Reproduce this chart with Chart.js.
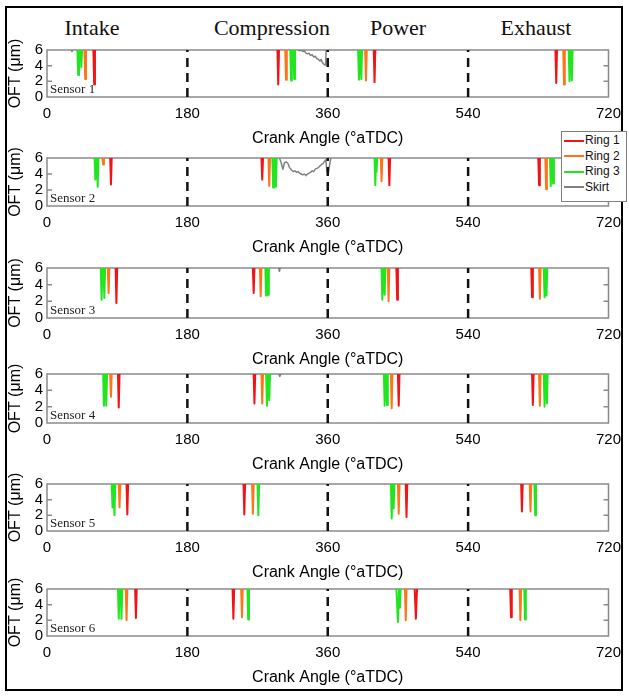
<!DOCTYPE html>
<html lang="en">
<head>
<meta charset="UTF-8">
<title>Oil film thickness by sensor</title>
<script src="https://cdn.jsdelivr.net/npm/chart.js"></script>
<style>
  body {
    margin: 0;
    width: 629px;
    height: 696px;
    position: relative;
    overflow: hidden;
    background: #fff;
    font-family: 'Liberation Sans', Arial, sans-serif;
  }
  .frame {
    position: absolute;
    left: 5px;
    top: 6px;
    width: 614px;
    height: 681px;
    border: 2px solid #000;
  }
  .panel { position: absolute; left: 0; }
  .stroke {
    position: absolute;
    top: 15px;
    transform: translateX(-50%);
    font-family: 'Liberation Serif', 'Times New Roman', serif;
    font-size: 22px;
    color: #111;
    white-space: nowrap;
  }
  .legend {
    position: absolute;
    left: 561px;
    top: 131px;
    width: 64px;
    height: 69px;
    border: 1px solid #808080;
    background: #fff;
    z-index: 5;
  }
  .legend div {
    position: absolute;
    left: 2px;
    height: 15px;
    line-height: 15px;
    font-size: 12px;
    color: #111;
    white-space: nowrap;
  }
  .legend span {
    display: inline-block;
    width: 20px;
    height: 2px;
    vertical-align: middle;
    margin-right: 1px;
  }
</style>
</head>
<body>
<div class="frame"></div>
<div id="titles"></div>
<div id="panels"></div>
<div class="legend" id="legend"></div>

<script>
// --- data ---------------------------------------------------------------
const sensorNames = ['Sensor 1', 'Sensor 2', 'Sensor 3', 'Sensor 4', 'Sensor 5', 'Sensor 6'];
const strokeNames = ['Intake', 'Compression', 'Power', 'Exhaust'];
const strokeBounds = [180, 360, 540];
const xTicks = [0, 180, 360, 540, 720];
const yTicks = [0, 2, 4, 6];
const seriesNames = ['Ring 1', 'Ring 2', 'Ring 3', 'Skirt'];

// each dip: [angle where it leaves 6 um, angle of minimum, minimum OFT, angle where it is back at 6 um]
const ring1Dips = [
  [[59.5, 60.5, 1.6, 61.5], [295.5, 296.5, 1.6, 297.5], [419, 420, 1.9, 421], [652, 653, 1.8, 654]],
  [[81, 82, 2.7, 83], [275, 276, 3.3, 277], [438, 439, 2.6, 440], [630, 631, 2.6, 632]],
  [[88, 89, 1.8, 90], [264, 265, 3.0, 266], [448, 449, 2.2, 450], [621, 622, 2.5, 623]],
  [[91, 92, 1.9, 93], [265, 266, 2.4, 267], [450, 451, 2.1, 452], [622, 623, 2.2, 624]],
  [[102, 103, 2.1, 104], [252, 253, 2.1, 254], [460, 461, 1.8, 462], [608, 609, 2.5, 610]],
  [[113, 114, 2.3, 115], [238, 239, 2.2, 240], [471.5, 473, 2.2, 474.5], [594, 595, 2.4, 596]]
];
const ring2Dips = [
  [[48, 49, 2.3, 50], [305.5, 306.5, 2.2, 307.5], [408, 409, 2.1, 410], [662, 663, 1.6, 664]],
  [[71, 72, 5.2, 73], [284, 285, 2.5, 286], [428, 429, 3.1, 430], [639, 640, 2.1, 641]],
  [[78, 79, 3.0, 80], [273, 274, 2.6, 275], [437, 438, 2.0, 439], [631, 632, 2.3, 633]],
  [[81, 82, 3.2, 83], [275, 276, 2.4, 277], [441, 442, 1.8, 443], [631, 632, 2.1, 633]],
  [[92, 93, 3.0, 94], [263, 264, 2.2, 265], [450, 451, 2.2, 452], [619, 620, 2.5, 621]],
  [[101, 102, 2.0, 103], [249, 250, 2.4, 251], [459, 460, 2.0, 461], [606, 607, 2.0, 608]]
];
const ring3Dips = [
  [[39, 40, 2.8, 41], [43, 44, 3.8, 45], [312, 313, 2.1, 314], [316, 317, 2.3, 318],
   [399, 400, 2.2, 401], [402, 403, 2.3, 404], [669, 670, 2.0, 671], [672, 673, 2.1, 674]],
  [[61, 62, 3.3, 63], [64, 65, 2.4, 66], [289, 290, 2.3, 291], [292.5, 293.5, 2.4, 294.5],
   [420, 421, 2.6, 422], [421.5, 422.5, 4.3, 423.5], [645, 646, 2.5, 647], [648, 649, 2.8, 650]],
  [[69, 70, 2.2, 71], [72.5, 73.5, 2.4, 74.5], [280, 281, 2.7, 282], [282.5, 283.5, 2.8, 284.5],
   [429, 430, 2.2, 431], [432, 433, 2.8, 434], [637, 638, 2.5, 639], [639.5, 640.5, 2.7, 641.5]],
  [[72, 73, 2.1, 74], [75, 76, 2.1, 77], [281, 282, 2.1, 283], [284, 285, 2.8, 286],
   [432, 433, 2.1, 434], [435, 436, 2.2, 437], [637, 638, 2.0, 639], [640, 641, 2.4, 642]],
  [[83, 84, 3.0, 85], [85.5, 86.5, 2.0, 87.5], [270, 271, 2.0, 272],
   [441, 442, 1.6, 443], [443.5, 444.5, 2.9, 445.5], [625, 626, 2.0, 627]],
  [[91, 92, 2.2, 93], [94.5, 95.5, 2.2, 96.5], [257, 258, 2.1, 259],
   [448, 450, 1.8, 451.5], [451.5, 452.5, 3.6, 453.5], [612, 613, 2.1, 614]]
];
// skirt traces as [angle, OFT] pairs, null breaks the line
const skirtTraces = [
  [[31, 6], [32, 5.8], [33, 6], null,
   [322, 6], [324, 5.9], [326, 6], [328, 5.8], [330, 5.9], [332, 5.6], [334, 5.5], [336, 5.6],
   [338, 5.3], [340, 5.4], [342, 5.1], [344, 5.2], [346, 4.9], [348, 4.8], [350, 4.6], [351.5, 4.8],
   [353, 4.4], [355, 4.2], [356.5, 4.1], [357.5, 5.0], [358, 6]],
  [[298, 6], [300, 5.5], [302.5, 4.6], [304.5, 5.4], [307, 5.5], [309, 5.3], [311, 4.8], [313.5, 4.5],
   [316, 4.3], [318, 4.4], [320, 4.2], [322, 4.3], [324, 4.1], [326, 4.0], [328, 3.9], [330, 4.0],
   [332, 3.8], [334, 4.0], [336, 4.1], [338, 4.2], [340, 4.4], [342, 4.3], [344, 4.6], [346, 4.7],
   [348, 4.8], [350, 5.0], [352, 5.2], [354, 5.3], [356, 5.6], [357.5, 5.8], [359, 4.3], [361, 4.2],
   [362.5, 5.2], [364, 6]],
  [[297, 6], [298, 5.6], [299, 6]],
  [[297, 6], [298.5, 5.7], [300, 6]],
  [],
  []
];

// --- layout ---------------------------------------------------------------
const panelTops = [50, 158, 268, 374, 484, 589];
const panelHeights = [47, 48, 50, 49, 47, 47];
const strokeCenters = [92, 272, 398, 536];
const PAD_TOP = 22;
const X_AXIS_H = 51;
const Y_AXIS_W = 47;
const colors = ['#f01414', '#ff7418', '#1fe61f', '#808080'];

Chart.defaults.font.family = "'Liberation Sans', Arial, sans-serif";
Chart.defaults.color = '#000';

function dipPoints(dips) {
  const top = yTicks[yTicks.length - 1];
  const pts = [];
  dips.forEach(d => {
    pts.push({x: d[0], y: top});
    pts.push({x: d[1], y: d[2]});
    pts.push({x: d[3], y: top});
    pts.push({x: d[3], y: null});
  });
  return pts;
}

function tracePoints(trace) {
  return trace.map(p => p ? {x: p[0], y: p[1]} : {x: 0, y: null});
}

// box, inward y ticks and sensor name
const panelDecor = {
  id: 'panelDecor',
  beforeDatasetsDraw(chart, args, opts) {
    const {ctx, chartArea: a, scales} = chart;
    ctx.save();
    ctx.strokeStyle = '#8a8a8a';
    ctx.lineWidth = 1.5;
    ctx.strokeRect(a.left, a.top, a.right - a.left, a.bottom - a.top);
    ctx.beginPath();
    yTicks.slice(1, -1).forEach(v => {
      const y = scales.y.getPixelForValue(v);
      ctx.moveTo(a.left, y); ctx.lineTo(a.left + 5, y);
      ctx.moveTo(a.right, y); ctx.lineTo(a.right - 5, y);
    });
    ctx.stroke();
    ctx.fillStyle = '#222';
    ctx.font = "13px 'Liberation Serif', 'Times New Roman', serif";
    ctx.textBaseline = 'bottom';
    ctx.fillText(opts.label, a.left + 3, a.bottom - 1);
    ctx.restore();
  }
};

// stroke titles
const titles = document.getElementById('titles');
strokeNames.forEach((name, i) => {
  const s = document.createElement('span');
  s.className = 'stroke';
  s.style.left = strokeCenters[i] + 'px';
  s.textContent = name;
  titles.appendChild(s);
});

// legend
const legend = document.getElementById('legend');
seriesNames.forEach((name, i) => {
  const row = document.createElement('div');
  row.style.top = (1 + i * 15.5) + 'px';
  row.innerHTML = '<span style="background:' + colors[i] + '"></span>' + name;
  legend.appendChild(row);
});

// one chart per sensor
const panels = document.getElementById('panels');
sensorNames.forEach((name, i) => {
  const canvas = document.createElement('canvas');
  canvas.className = 'panel';
  canvas.width = 629;
  canvas.height = PAD_TOP + panelHeights[i] + X_AXIS_H;
  canvas.style.top = (panelTops[i] - PAD_TOP) + 'px';
  panels.appendChild(canvas);

  const datasets = [ring1Dips, ring2Dips, ring3Dips].map((dips, k) => ({
    label: seriesNames[k],
    data: dipPoints(dips[i]),
    borderColor: colors[k],
    borderWidth: 2,
    order: 2
  }));
  datasets.unshift({
    label: seriesNames[3],
    data: tracePoints(skirtTraces[i]),
    borderColor: colors[3],
    borderWidth: 1.5,
    order: 3
  });
  strokeBounds.forEach(b => {
    datasets.push({
      label: 'bound',
      data: [{x: b, y: yTicks[0]}, {x: b, y: yTicks[yTicks.length - 1]}],
      borderColor: '#111',
      borderWidth: 2.5,
      borderDash: [9, 6],
      order: 1
    });
  });

  new Chart(canvas, {
    type: 'line',
    data: {datasets: datasets},
    options: {
      responsive: false,
      animation: false,
      spanGaps: false,
      elements: {point: {radius: 0}, line: {tension: 0, borderJoinStyle: 'round'}},
      layout: {padding: {left: 0, right: 18, top: PAD_TOP, bottom: 0}},
      plugins: {
        legend: {display: false},
        tooltip: {enabled: false},
        panelDecor: {label: name}
      },
      scales: {
        x: {
          type: 'linear',
          min: xTicks[0],
          max: xTicks[xTicks.length - 1],
          afterBuildTicks: s => { s.ticks = xTicks.map(v => ({value: v})); },
          afterFit: s => { s.height = X_AXIS_H; },
          grid: {display: false, drawTicks: false},
          border: {display: false},
          ticks: {autoSkip: false, maxRotation: 0, padding: 8, font: {size: 15}},
          title: {display: true, text: 'Crank Angle (°aTDC)', font: {size: 16}, padding: {top: 0, bottom: 0}}
        },
        y: {
          min: yTicks[0],
          max: yTicks[yTicks.length - 1],
          afterBuildTicks: s => { s.ticks = yTicks.map(v => ({value: v})); },
          afterFit: s => { s.width = Y_AXIS_W; },
          grid: {display: false, drawTicks: false},
          border: {display: false},
          ticks: {autoSkip: false, padding: 4, font: {size: 15}},
          title: {display: true, text: 'OFT (\u03bcm)', font: {size: 16}, padding: {top: 6, bottom: 0}}
        }
      }
    },
    plugins: [panelDecor]
  });
});
</script>
</body>
</html>
